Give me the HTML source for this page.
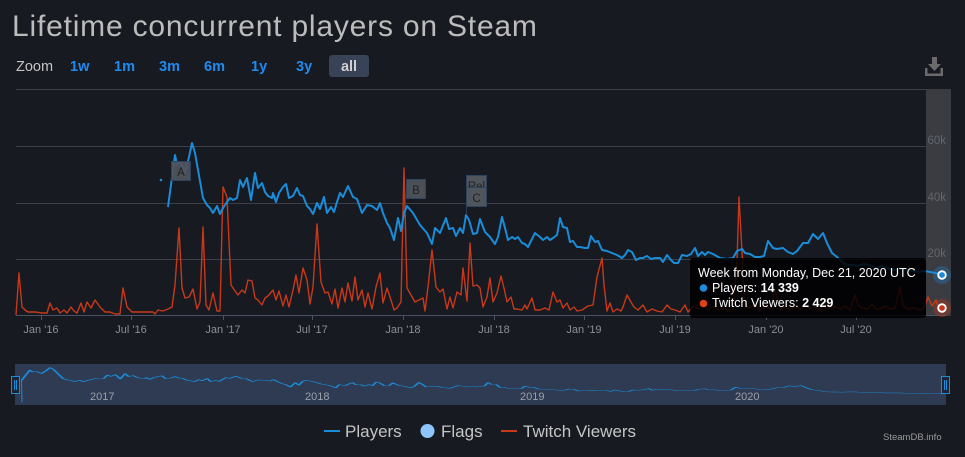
<!DOCTYPE html>
<html><head><meta charset="utf-8"><style>
html,body{margin:0;padding:0;background:#171a21;}
svg{display:block;}
text{font-family:"Liberation Sans",sans-serif;}
</style></head><body>
<svg width="965" height="457" viewBox="0 0 965 457" xmlns="http://www.w3.org/2000/svg">
<rect width="965" height="457" fill="#171a21"/>
<text x="12" y="36" font-size="30" fill="#bcbcbc" letter-spacing="0.8">Lifetime concurrent players on Steam</text>
<text x="16" y="71" font-size="14.5" fill="#c4c4c4">Zoom</text>
<g font-size="14.5" font-weight="bold" fill="#1f8bf0">
<text x="70" y="71">1w</text><text x="114" y="71">1m</text><text x="159" y="71">3m</text><text x="204" y="71">6m</text><text x="251" y="71">1y</text><text x="296" y="71">3y</text>
</g>
<rect x="329" y="55" width="40" height="22" rx="3" fill="#394358"/>
<text x="349" y="71" font-size="14.5" font-weight="bold" fill="#d0d0d0" text-anchor="middle">all</text>
<g fill="#6b6b6b"><path d="M925 68v8h18v-8h-2.5v5.5h-13v-5.5z"/><rect x="932" y="57" width="5" height="8"/><path d="M928 64h13l-6.5 7z"/></g>
<g stroke="#3c3f47" stroke-width="1">
<line x1="16" y1="89.5" x2="946" y2="89.5"/><line x1="16" y1="146.5" x2="946" y2="146.5"/><line x1="16" y1="203.5" x2="946" y2="203.5"/><line x1="16" y1="259.5" x2="946" y2="259.5"/>
</g>
<rect x="926" y="89" width="25" height="227" fill="#3a3c42"/>
<g font-size="11.5" fill="#62656c" text-anchor="end">
<text x="946" y="144">60k</text><text x="946" y="201">40k</text><text x="946" y="257">20k</text>
</g>
<line x1="16" y1="315.5" x2="946" y2="315.5" stroke="#4a5162"/>
<g stroke="#4a5162"><line x1="41.5" y1="315" x2="41.5" y2="320"/><line x1="131.5" y1="315" x2="131.5" y2="320"/><line x1="223.5" y1="315" x2="223.5" y2="320"/><line x1="312.5" y1="315" x2="312.5" y2="320"/><line x1="403.5" y1="315" x2="403.5" y2="320"/><line x1="494.5" y1="315" x2="494.5" y2="320"/><line x1="584.5" y1="315" x2="584.5" y2="320"/><line x1="675.5" y1="315" x2="675.5" y2="320"/><line x1="766.5" y1="315" x2="766.5" y2="320"/><line x1="856.5" y1="315" x2="856.5" y2="320"/></g>
<g font-size="11" fill="#8a8e96" text-anchor="middle">
<text x="41" y="333">Jan '16</text><text x="131" y="333">Jul '16</text><text x="223" y="333">Jan '17</text><text x="312" y="333">Jul '17</text><text x="403" y="333">Jan '18</text><text x="494" y="333">Jul '18</text><text x="584" y="333">Jan '19</text><text x="675" y="333">Jul '19</text><text x="766" y="333">Jan '20</text><text x="856" y="333">Jul '20</text>
</g>
<polyline fill="none" stroke="#c8391a" stroke-width="1.4" stroke-linejoin="round" points="16,315 19,273 22,307 25,310 28,312 35,312 42,313 47,313 50,303 53,310 57,308 60,313 64,310 67,313 71,307 74,311 77,313 81,303 84,312 87,302 91,308 95,300 100,307 105,312 110,312 115,314 120,314 123,288 127,307 132,312 140,312 148,312 153,312 155,314 158,310 163,311 168,309 172,307 175,285 179,228 182,288 185,298 189,297 193,289 197,309 200,302 203,227 206,305 209,310 213,293 217,311 220,311 223,187 227,197 231,285 235,291 238,295 242,290 245,293 248,280 252,281 255,298 258,300 262,305 265,298 268,296 273,290 276,300 279,291 283,306 286,295 289,307 293,290 296,275 299,293 303,268 307,280 310,304 313,287 317,224 321,282 325,293 328,292 332,304 335,289 338,308 342,288 345,302 348,283 352,301 355,277 358,300 362,290 365,307 368,293 372,309 376,287 380,273 383,303 387,288 391,300 394,310 397,308 401,302 404,168 407,288 411,295 415,302 419,300 423,298 425,311 428,287 432,250 436,287 440,292 443,289 447,309 450,297 453,308 457,292 461,295 463,268 467,301 470,243 473,286 477,285 480,288 483,307 487,297 490,278 493,302 497,293 501,276 504,288 507,302 511,297 514,309 517,309 522,310 525,305 527,309 532,298 535,310 540,310 545,308 549,310 553,292 557,302 560,300 563,308 567,303 570,310 574,307 577,311 582,310 585,308 588,306 593,305 597,277 602,258 604,285 607,311 610,303 613,312 617,309 621,311 623,307 627,295 631,302 634,307 638,310 643,305 647,312 652,309 657,311 662,312 667,305 671,309 675,310 680,312 685,305 688,312 693,306 698,309 703,303 708,310 713,306 718,310 723,308 728,311 733,310 737,262 739,197 742,252 745,305 750,308 755,304 760,310 765,306 770,309 775,290 780,309 785,307 790,310 795,306 800,309 805,305 810,309 815,307 820,310 825,303 830,309 835,306 840,309 845,306 850,310 855,295 858,305 862,308 868,309 872,304 876,309 880,309 886,306 890,309 895,308 900,287 903,306 908,309 914,308 920,310 924,308 928,297 932,306 936,300 938,306 942,308"/>
<circle cx="161" cy="180" r="1.3" fill="#1a8cd8"/>
<polyline id="pl" fill="none" stroke="#1a8cd8" stroke-width="2" stroke-linejoin="round" points="168,207 175,155 177,165 179,162 181,163 185,173 189,157 192,143 195,153 198,170 203,198 207,205 210,208 213,213 217,206 220,214 223,208 227,202 230,198 233,200 237,198 240,180 243,187 247,178 251,200 255,173 258,188 262,183 265,192 268,196 272,198 273,193 276,202 279,193 283,187 286,184 289,198 293,196 297,188 300,195 303,196 307,206 310,209 313,214 317,203 320,209 324,197 327,213 331,207 334,212 337,202 340,193 343,197 348,186 353,197 357,199 362,213 367,205 372,206 377,210 380,203 383,213 387,223 390,228 394,240 398,218 401,231 404,213 407,206 413,213 420,225 427,233 432,244 435,228 440,233 446,218 449,229 453,228 456,236 460,228 463,233 466,215 469,220 473,234 477,233 480,219 485,232 490,237 495,244 498,237 502,217 505,228 508,240 512,237 515,239 518,237 522,243 525,244 528,247 532,239 535,233 540,237 543,240 547,237 550,240 553,238 557,235 560,218 563,227 567,228 570,242 573,241 577,247 580,247 585,248 588,248 591,236 595,242 598,241 602,250 607,251 612,253 617,255 622,258 625,255 628,250 632,252 636,260 640,258 643,258 647,256 651,259 655,258 660,258 663,262 667,255 671,260 674,263 678,263 682,255 687,256 691,254 695,248 698,256 702,252 705,255 708,252 713,254 720,258 727,259 733,258 737,251 742,249 745,253 750,254 755,257 760,257 764,256 768,241 773,248 777,249 783,248 788,252 793,254 797,251 803,243 808,243 813,234 818,239 823,233 827,243 832,253 837,257 842,262 847,265 852,265 858,266 864,264 870,265 876,268 882,266 888,268 894,270 900,269 906,270 912,271 918,272 924,271 930,272 936,273 942,275"/>
<line x1="466.5" y1="176" x2="466.5" y2="215" stroke="#2c3e56" stroke-width="1"/>
<g font-size="11.5" fill="#222" text-anchor="middle">
<rect x="171.5" y="161.5" width="19" height="19" fill="#50545c" fill-opacity="0.92" stroke="#2c4460"/><text x="181" y="176">A</text>
<rect x="406.5" y="179.5" width="19" height="19" fill="#50545c" fill-opacity="0.92" stroke="#2c4460"/><text x="416" y="194">B</text>
<rect x="466.5" y="175.5" width="20" height="20" fill="#50545c" stroke="#2c4460"/><text x="476.5" y="190">Rel</text>
<rect x="466.5" y="187.5" width="20" height="19" fill="#50545c" stroke="#2c4460"/><text x="476.5" y="202">C</text>
</g>
<rect x="690" y="258" width="236" height="60" rx="3" fill="#000" fill-opacity="0.85"/>
<g font-size="12.5" fill="#fff">
<text x="698" y="277">Week from Monday, Dec 21, 2020 UTC</text>
<circle cx="703.5" cy="288" r="3.8" fill="#1a8cd8"/>
<text x="712" y="292">Players: <tspan font-weight="bold">14 339</tspan></text>
<circle cx="703.5" cy="303.5" r="3.8" fill="#e0401a"/>
<text x="712" y="307">Twitch Viewers: <tspan font-weight="bold">2 429</tspan></text>
</g>
<circle cx="942" cy="275" r="9" fill="#1a8cd8" fill-opacity="0.3"/>
<circle cx="942" cy="275" r="3.8" fill="#1a8cd8" stroke="#fff" stroke-width="1.8"/>
<circle cx="942" cy="308" r="9" fill="#c8391a" fill-opacity="0.35"/>
<circle cx="942" cy="308" r="3.8" fill="#c8391a" stroke="#fff" stroke-width="1.8"/>
<rect x="15" y="364" width="931" height="41" fill="#2f3b53"/>
<g font-size="11" fill="#9aa0aa">
<text x="90" y="400">2017</text><text x="305" y="400">2018</text><text x="520" y="400">2019</text><text x="735" y="400">2020</text>
</g>
<line x1="22" y1="402" x2="21.5" y2="380" stroke="#1a8cd8" stroke-width="1"/>
<use href="#pl" transform="matrix(1.19,0,0,0.2,-178.4,339)" style="stroke-width:1" />
<g stroke="#1a8cd8" fill="#1c2536" stroke-width="1">
<rect x="11.5" y="376.5" width="8" height="17"/><line x1="14.5" y1="380" x2="14.5" y2="390"/><line x1="16.5" y1="380" x2="16.5" y2="390"/>
<rect x="941.5" y="376.5" width="8" height="17"/><line x1="944.5" y1="380" x2="944.5" y2="390"/><line x1="946.5" y1="380" x2="946.5" y2="390"/>
</g>
<line x1="324" y1="431" x2="340" y2="431" stroke="#1a8cd8" stroke-width="2"/>
<text x="345" y="437" font-size="17" fill="#c5c5c5">Players</text>
<circle cx="427.5" cy="431" r="7" fill="#8ec5ff"/>
<text x="441" y="437" font-size="17" fill="#c5c5c5">Flags</text>
<line x1="501" y1="431" x2="517" y2="431" stroke="#c8391a" stroke-width="2"/>
<text x="523" y="437" font-size="17" fill="#c5c5c5">Twitch Viewers</text>
<text x="883" y="440" font-size="9.5" fill="#9a9a9a">SteamDB.info</text>
</svg>
</body></html>
